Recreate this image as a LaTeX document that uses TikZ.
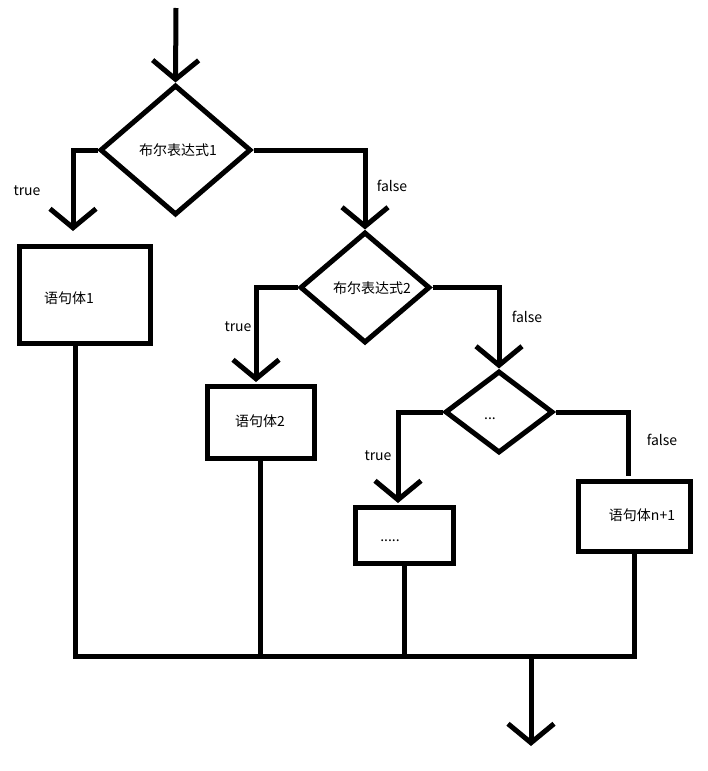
\documentclass[tikz,border=0pt]{standalone}
\usepackage{fontspec}
\setmainfont{Noto Sans CJK SC}
\usetikzlibrary{shapes.geometric,arrows.meta}
\begin{document}
\begin{tikzpicture}[x=1pt,y=-1pt,
  conn/.style={line width=5pt},
  arr/.style={-{Straight Barb[length=19pt,width=46pt]}},
  dia/.style={diamond, draw, line width=5pt, inner sep=0pt},
  box/.style={rectangle, draw, line width=5pt, inner sep=0pt},
  lbl/.style={font=\fontsize{14}{16}\selectfont, inner sep=0pt}
]
\useasboundingbox (0,0) rectangle (707,771);
% decisions
\node[dia, minimum width=151pt, minimum height=130pt] (d1) at (175.5,150) {};
\node[dia, minimum width=130pt, minimum height=111pt] (d2) at (365,287.5) {};
\node[dia, minimum width=108pt, minimum height=82pt] (d3) at (499,412) {};
% statement boxes
\node[box, minimum width=131pt, minimum height=97pt] (b1) at (84.5,294.5) {};
\node[box, minimum width=107pt, minimum height=72pt] (b2) at (260.5,422) {};
\node[box, minimum width=98pt, minimum height=56pt] (b3) at (404,535) {};
\node[box, minimum width=112pt, minimum height=70pt] (bn) at (634,516) {};
% texts
\node[lbl] (td1) at (178,150) {布尔表达式1};
\node[lbl] (td2) at (372,288) {布尔表达式2};
\node[lbl] (td3) at (490,419) {...};
\node[lbl] (tb1) at (69,298) {语句体1};
\node[lbl] (tb2) at (260,421) {语句体2};
\node[lbl] (tb3) at (390,541) {.....};
\node[lbl] (tbn) at (642,515) {语句体n+1};
\node[lbl] (l1) at (27,191) {true};
\node[lbl] (l2) at (392,186) {false};
\node[lbl] (l3) at (238,327) {true};
\node[lbl] (l4) at (527,317) {false};
\node[lbl] (l5) at (378,456) {true};
\node[lbl] (l6) at (662,440) {false};
% free ends
\coordinate (s) at (176,8);
\coordinate (t1) at (73,231);
\coordinate (t2) at (256,382);
\coordinate (t3) at (398,503);
\coordinate (t4) at (628,476);
\coordinate (j) at (531,656);
\coordinate (e) at (531,746);
% connectors
\draw[conn,arr] (s) -- (d1.north);
\draw[conn,arr] (d1.west) -| (t1);
\draw[conn,arr] (d1.east) -| (d2.north);
\draw[conn,arr] (d2.west) -| (t2);
\draw[conn,arr] (d2.east) -| (d3.north);
\draw[conn,arr] (d3.west) -| (t3);
\draw[conn] (d3.east) -| (t4);
\draw[conn] (b1.south -| 75,0) |- (j);
\draw[conn] (b2.south) -- (b2.south |- j);
\draw[conn] (b3.south) -- (b3.south |- j);
\draw[conn] (bn.south) |- (j);
\draw[conn,arr] (j) -- (e);
\end{tikzpicture}
\end{document}
